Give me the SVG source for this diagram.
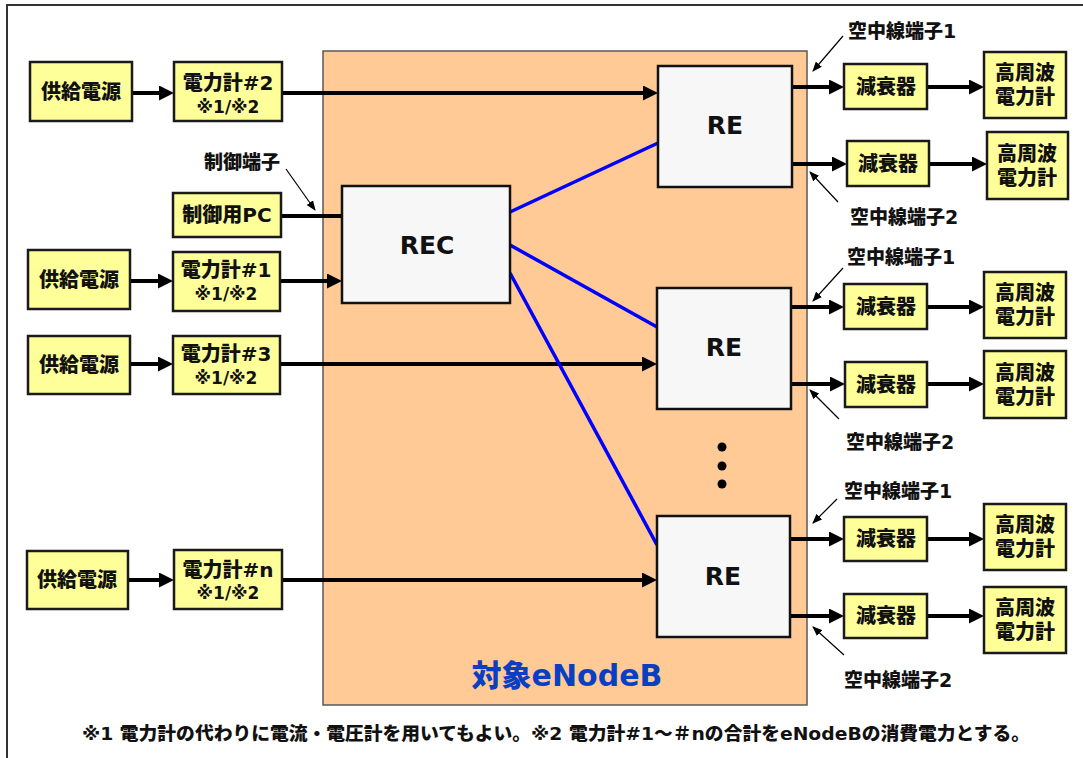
<svg xmlns="http://www.w3.org/2000/svg" width="1083" height="758" viewBox="0 0 1083 758">
<defs>
<style>
text{font-family:"DejaVu Sans","Noto Sans CJK JP",sans-serif;font-weight:900;fill:#111;dominant-baseline:central;text-anchor:middle}
.y{fill:#FFFF99;stroke:#1a1a1a;stroke-width:2.5}
.w{fill:#F7F7F7;stroke:#111;stroke-width:2.5}
.t{font-size:20px}
.s{font-size:17px}
.big{font-size:25px}
.lbl{font-size:19px;text-anchor:start}
.k{stroke:#000;stroke-width:4;fill:none}
.b{stroke:#0000FF;stroke-width:3.5;fill:none}
.p{stroke:#000;stroke-width:1.2;fill:none}
</style>
<marker id="ah" markerWidth="15" markerHeight="15" refX="3" refY="7.5" orient="auto" markerUnits="userSpaceOnUse"><path d="M0,0 L15,7.5 L0,15 z" fill="#000"/></marker>
<marker id="sa" markerWidth="10" markerHeight="8" refX="9" refY="4" orient="auto" markerUnits="userSpaceOnUse"><path d="M0,0 L10,4 L0,8 z" fill="#000"/></marker>
</defs>
<rect x="7" y="5" width="1090" height="770" fill="#fff" stroke="#333" stroke-width="2"/>
<g id="enodeb">
<rect x="323" y="51" width="484" height="654" fill="#FFCA96" stroke="#5a5a5a" stroke-width="1.5"/>
<text x="567" y="675" style="font-size:30px;fill:#0A3FC4">対象eNodeB</text>
</g>
<g id="connectors">
<line class="k" x1="132" y1="93" x2="162" y2="93" marker-end="url(#ah)"/>
<line class="k" x1="282" y1="93" x2="646" y2="93" marker-end="url(#ah)"/>
<line class="k" x1="281" y1="216" x2="342" y2="216"/>
<line class="k" x1="130" y1="281" x2="161" y2="281" marker-end="url(#ah)"/>
<line class="k" x1="280" y1="281" x2="330" y2="281" marker-end="url(#ah)"/>
<line class="k" x1="130" y1="364" x2="161" y2="364" marker-end="url(#ah)"/>
<line class="k" x1="280" y1="364" x2="645" y2="364" marker-end="url(#ah)"/>
<line class="k" x1="128" y1="580" x2="162" y2="580" marker-end="url(#ah)"/>
<line class="k" x1="282" y1="580" x2="645" y2="580" marker-end="url(#ah)"/>
<line class="b" x1="510" y1="212" x2="658" y2="143"/>
<line class="b" x1="510" y1="245" x2="657" y2="327"/>
<line class="b" x1="510" y1="273" x2="657" y2="545"/>
<line class="k" x1="792" y1="87" x2="832" y2="87" marker-end="url(#ah)"/>
<line class="k" x1="792" y1="164" x2="835" y2="164" marker-end="url(#ah)"/>
<line class="k" x1="927" y1="87" x2="972" y2="87" marker-end="url(#ah)"/>
<line class="k" x1="929" y1="164" x2="975" y2="164" marker-end="url(#ah)"/>
<line class="k" x1="791" y1="307" x2="832" y2="307" marker-end="url(#ah)"/>
<line class="k" x1="791" y1="384" x2="833" y2="384" marker-end="url(#ah)"/>
<line class="k" x1="927" y1="307" x2="972" y2="307" marker-end="url(#ah)"/>
<line class="k" x1="927" y1="384" x2="972" y2="384" marker-end="url(#ah)"/>
<line class="k" x1="790" y1="539" x2="832" y2="539" marker-end="url(#ah)"/>
<line class="k" x1="790" y1="616" x2="832" y2="616" marker-end="url(#ah)"/>
<line class="k" x1="927" y1="539" x2="972" y2="539" marker-end="url(#ah)"/>
<line class="k" x1="927" y1="616" x2="972" y2="616" marker-end="url(#ah)"/>
<line class="p" x1="286" y1="169" x2="315" y2="210" marker-end="url(#sa)"/>
<line class="p" x1="843" y1="36" x2="813" y2="71" marker-end="url(#sa)"/>
<line class="p" x1="838" y1="202" x2="810" y2="172" marker-end="url(#sa)"/>
<line class="p" x1="843" y1="268" x2="813" y2="301" marker-end="url(#sa)"/>
<line class="p" x1="839" y1="419" x2="810" y2="390" marker-end="url(#sa)"/>
<line class="p" x1="837" y1="499" x2="813" y2="523" marker-end="url(#sa)"/>
<line class="p" x1="844" y1="655" x2="813" y2="627" marker-end="url(#sa)"/>
</g>
<g id="ps1"><rect class="y" x="30" y="62" width="102" height="59"/><text class="t" x="81" y="92">供給電源</text></g>
<g id="pm2"><rect class="y" x="174" y="62" width="108" height="59"/><text class="t" x="228" y="83">電力計#2</text><text class="s" x="228" y="107">※1/※2</text></g>
<g id="pc"><rect class="y" x="173" y="193" width="108" height="44"/><text class="t" x="227" y="215">制御用PC</text></g>
<g id="ps2"><rect class="y" x="28" y="250" width="102" height="59"/><text class="t" x="79" y="280">供給電源</text></g>
<g id="pm1"><rect class="y" x="173" y="252" width="107" height="59"/><text class="t" x="226" y="270">電力計#1</text><text class="s" x="226" y="294">※1/※2</text></g>
<g id="ps3"><rect class="y" x="28" y="336" width="102" height="58"/><text class="t" x="79" y="365">供給電源</text></g>
<g id="pm3"><rect class="y" x="173" y="336" width="107" height="58"/><text class="t" x="226" y="354">電力計#3</text><text class="s" x="226" y="378">※1/※2</text></g>
<g id="ps4"><rect class="y" x="27" y="551" width="101" height="58"/><text class="t" x="77" y="580">供給電源</text></g>
<g id="pmn"><rect class="y" x="174" y="550" width="108" height="59"/><text class="t" x="228" y="570">電力計#n</text><text class="s" x="228" y="593">※1/※2</text></g>
<g id="rec"><rect class="w" x="342" y="186" width="168" height="117"/><text class="big" x="427" y="245">REC</text></g>
<g id="re1"><rect class="w" x="658" y="66" width="134" height="121"/><text class="big" x="725" y="125">RE</text></g>
<g id="re2"><rect class="w" x="657" y="288" width="134" height="121"/><text class="big" x="724" y="347">RE</text></g>
<g id="re3"><rect class="w" x="657" y="516" width="133" height="121"/><text class="big" x="723" y="576">RE</text></g>
<g id="dots"><circle cx="722" cy="447" r="4.5"/><circle cx="722" cy="466" r="4.5"/><circle cx="722" cy="484" r="4.5"/></g>
<g id="att1a"><rect class="y" x="844" y="64" width="83" height="45"/><text class="t" x="886" y="87">減衰器</text></g>
<g id="att1b"><rect class="y" x="847" y="141" width="82" height="45"/><text class="t" x="888" y="164">減衰器</text></g>
<g id="att2a"><rect class="y" x="844" y="284" width="83" height="45"/><text class="t" x="886" y="307">減衰器</text></g>
<g id="att2b"><rect class="y" x="845" y="362" width="82" height="45"/><text class="t" x="886" y="385">減衰器</text></g>
<g id="att3a"><rect class="y" x="844" y="517" width="83" height="44"/><text class="t" x="886" y="539">減衰器</text></g>
<g id="att3b"><rect class="y" x="844" y="594" width="83" height="44"/><text class="t" x="886" y="616">減衰器</text></g>
<g id="rf1a"><rect class="y" x="984" y="52" width="82" height="66"/><text class="t" x="1025" y="73">高周波</text><text class="t" x="1025" y="97">電力計</text></g>
<g id="rf1b"><rect class="y" x="987" y="132" width="81" height="67"/><text class="t" x="1027" y="154">高周波</text><text class="t" x="1027" y="178">電力計</text></g>
<g id="rf2a"><rect class="y" x="984" y="272" width="82" height="66"/><text class="t" x="1025" y="293">高周波</text><text class="t" x="1025" y="317">電力計</text></g>
<g id="rf2b"><rect class="y" x="984" y="351" width="82" height="67"/><text class="t" x="1025" y="373">高周波</text><text class="t" x="1025" y="397">電力計</text></g>
<g id="rf3a"><rect class="y" x="984" y="504" width="82" height="66"/><text class="t" x="1025" y="525">高周波</text><text class="t" x="1025" y="549">電力計</text></g>
<g id="rf3b"><rect class="y" x="984" y="587" width="82" height="66"/><text class="t" x="1025" y="608">高周波</text><text class="t" x="1025" y="632">電力計</text></g>
<g id="labels">
<text class="lbl" x="204" y="162">制御端子</text>
<text class="lbl" x="848" y="31">空中線端子1</text>
<text class="lbl" x="850" y="217">空中線端子2</text>
<text class="lbl" x="847" y="257">空中線端子1</text>
<text class="lbl" x="846" y="442">空中線端子2</text>
<text class="lbl" x="844" y="491">空中線端子1</text>
<text class="lbl" x="844" y="680">空中線端子2</text>
<text x="556" y="733" style="font-size:18px" textLength="948" lengthAdjust="spacingAndGlyphs">※1 電力計の代わりに電流・電圧計を用いてもよい。※2 電力計#1～＃nの合計をeNodeBの消費電力とする。</text>
</g>
</svg>
